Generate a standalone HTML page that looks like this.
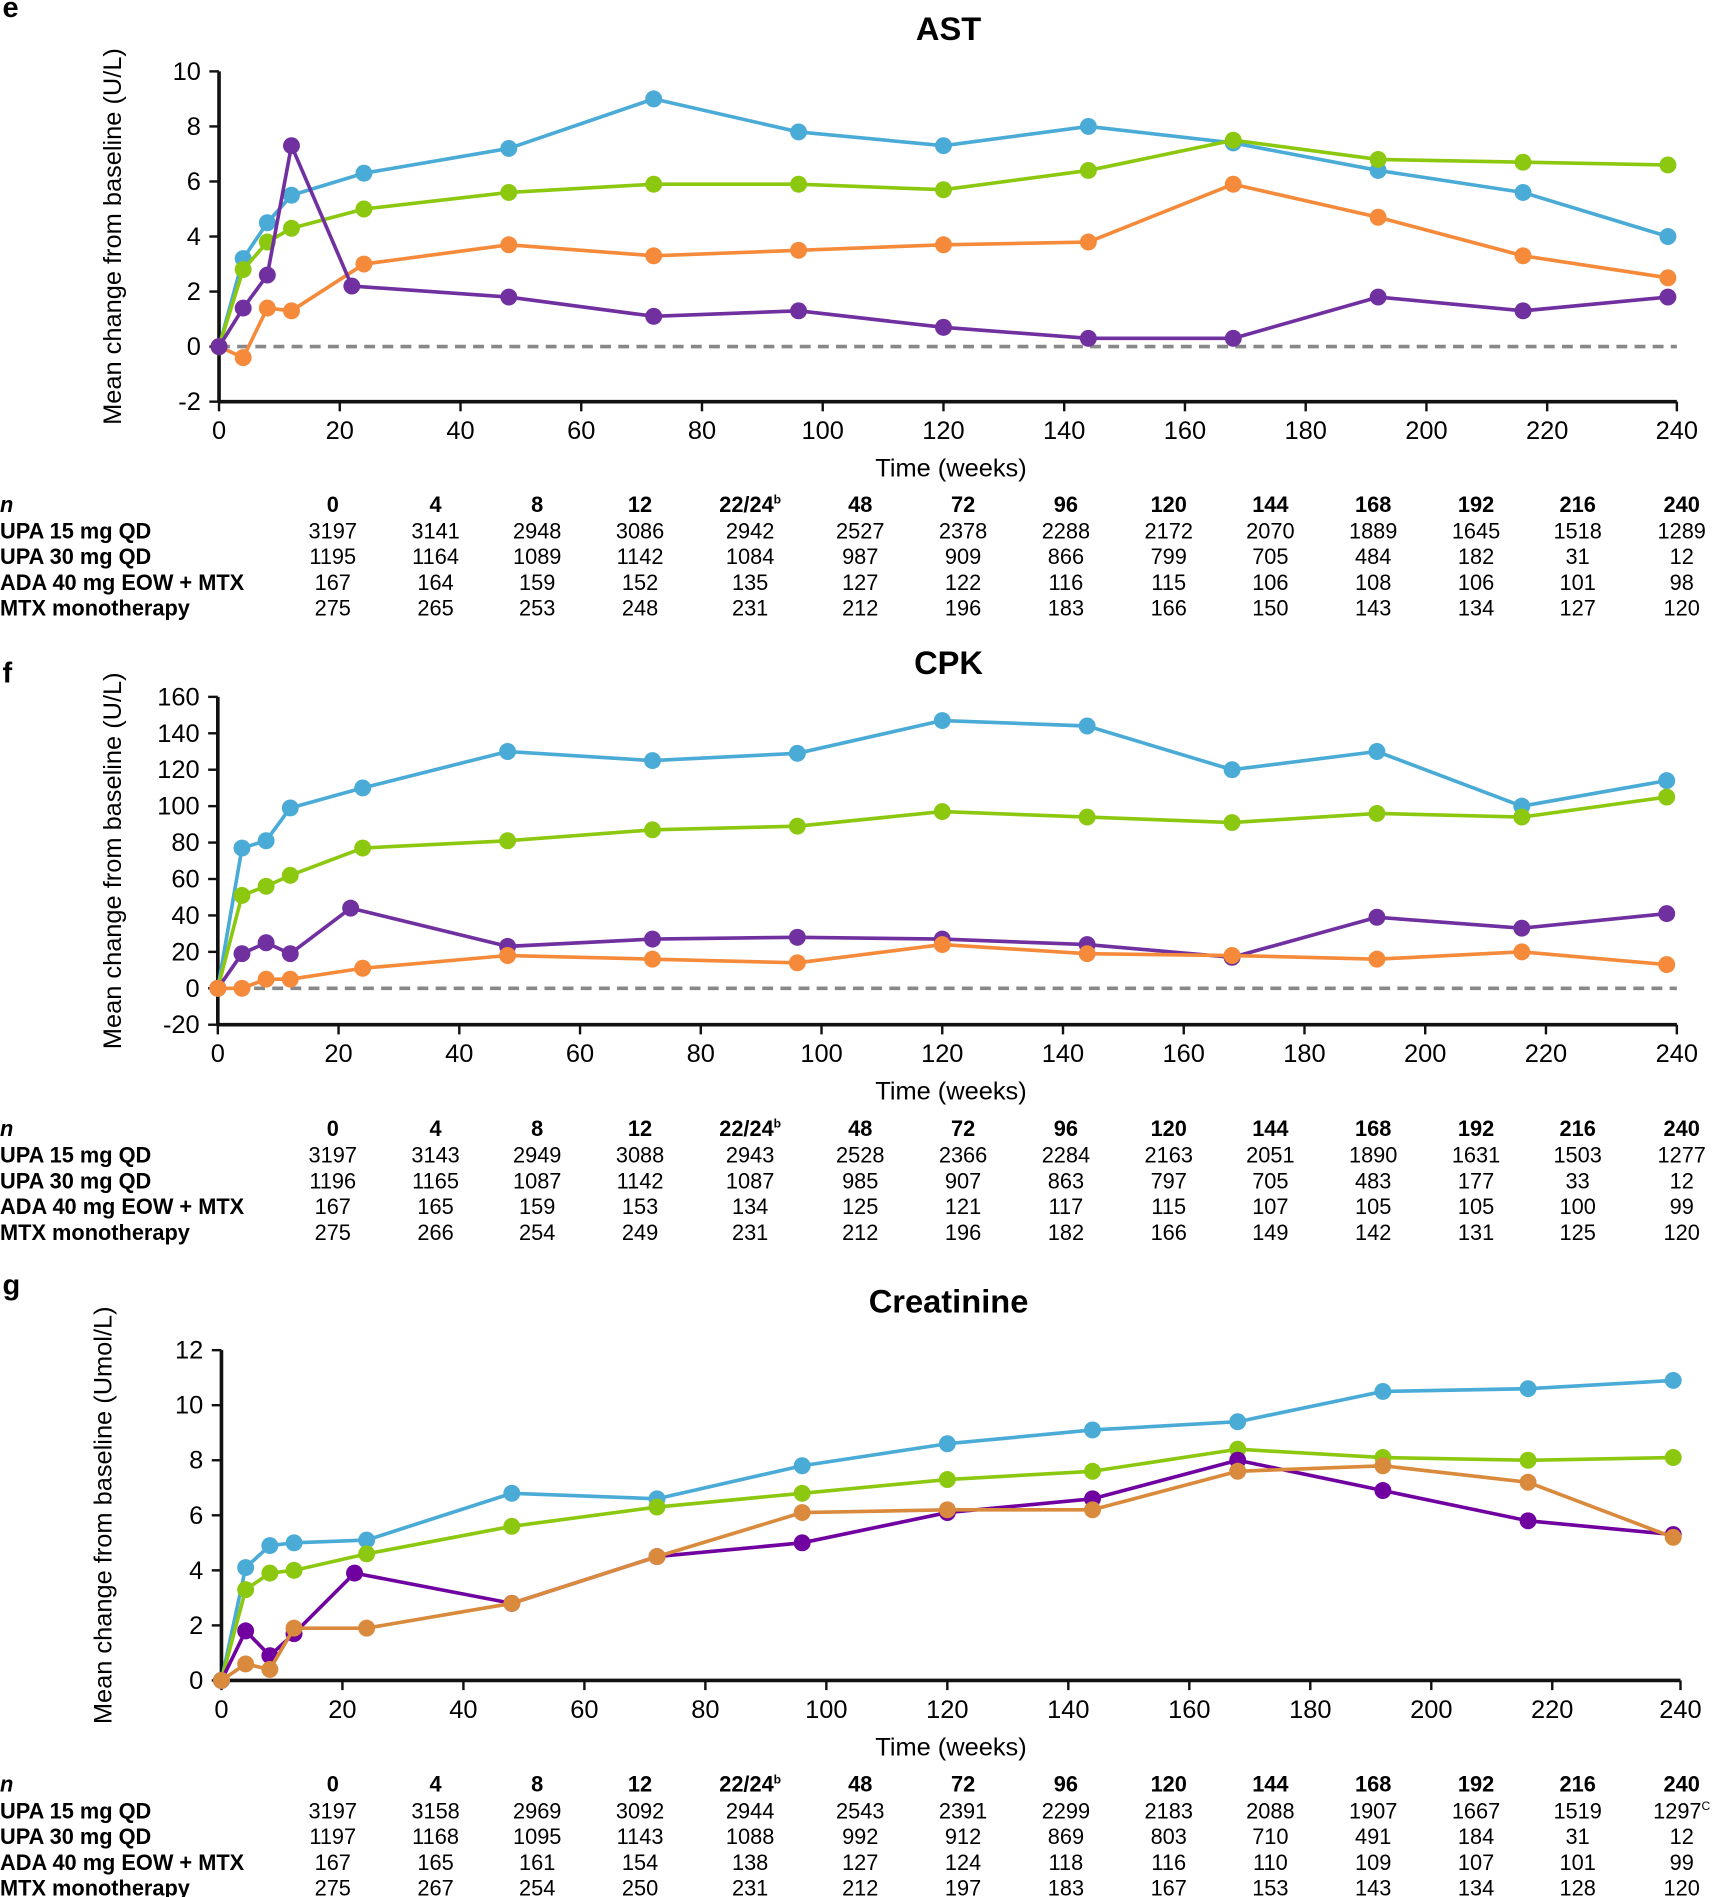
<!DOCTYPE html>
<html><head><meta charset="utf-8">
<style>
html,body{margin:0;padding:0;background:#fff;}
svg{display:block;font-family:"Liberation Sans",Arial,sans-serif;}
</style></head>
<body>
<svg id="fig" width="1712" height="1897" viewBox="0 0 1415 1568" xmlns="http://www.w3.org/2000/svg"></svg>
<script>
const weeks = [0,4,8,12,24,48,72,96,120,144,168,192,216,240];
const weeksPurple = [0,4,8,12,22,48,72,96,120,144,168,192,216,240];
const colHeaders = ["0","4","8","12","22/24","48","72","96","120","144","168","192","216","240"];
const rowLabels = ["UPA 15 mg QD","UPA 30 mg QD","ADA 40 mg EOW + MTX","MTX monotherapy"];

const astBlue   = [0,3.2,4.5,5.5,6.3,7.2,9.0,7.8,7.3,8.0,7.4,6.4,5.6,4.0];
const astGreen  = [0,2.8,3.8,4.3,5.0,5.6,5.9,5.9,5.7,6.4,7.5,6.8,6.7,6.6];
const astOrange = [0,-0.4,1.4,1.3,3.0,3.7,3.3,3.5,3.7,3.8,5.9,4.7,3.3,2.5];
const astPurple = [0,1.4,2.6,7.3,2.2,1.8,1.1,1.3,0.7,0.3,0.3,1.8,1.3,1.8];
const astTicks  = [-2,0,2,4,6,8,10];
const astN = [
 ["3197","3141","2948","3086","2942","2527","2378","2288","2172","2070","1889","1645","1518","1289"],
 ["1195","1164","1089","1142","1084","987","909","866","799","705","484","182","31","12"],
 ["167","164","159","152","135","127","122","116","115","106","108","106","101","98"],
 ["275","265","253","248","231","212","196","183","166","150","143","134","127","120"]];

const cpkBlue   = [0,77,81,99,110,130,125,129,147,144,120,130,100,114];
const cpkGreen  = [0,51,56,62,77,81,87,89,97,94,91,96,94,105];
const cpkPurple = [0,19,25,19,44,23,27,28,27,24,17,39,33,41];
const cpkOrange = [0,0,5,5,11,18,16,14,24,19,18,16,20,13];
const cpkTicks  = [-20,0,20,40,60,80,100,120,140,160];
const cpkN = [
 ["3197","3143","2949","3088","2943","2528","2366","2284","2163","2051","1890","1631","1503","1277"],
 ["1196","1165","1087","1142","1087","985","907","863","797","705","483","177","33","12"],
 ["167","165","159","153","134","125","121","117","115","107","105","105","100","99"],
 ["275","266","254","249","231","212","196","182","166","149","142","131","125","120"]];

const crBlue   = [0,4.1,4.9,5.0,5.1,6.8,6.6,7.8,8.6,9.1,9.4,10.5,10.6,10.9];
const crGreen  = [0,3.3,3.9,4.0,4.6,5.6,6.3,6.8,7.3,7.6,8.4,8.1,8.0,8.1];
const crPurple = [0,1.8,0.9,1.7,3.9,2.8,4.5,5.0,6.1,6.6,8.0,6.9,5.8,5.3];
const crOrange = [0,0.6,0.4,1.9,1.9,2.8,4.5,6.1,6.2,6.2,7.6,7.8,7.2,5.2];
const crTicks  = [0,2,4,6,8,10,12];
const crN = [
 ["3197","3158","2969","3092","2944","2543","2391","2299","2183","2088","1907","1667","1519","1297"],
 ["1197","1168","1095","1143","1088","992","912","869","803","710","491","184","31","12"],
 ["167","165","161","154","138","127","124","118","116","110","109","107","101","99"],
 ["275","267","254","250","231","212","197","183","167","153","143","134","128","120"]];

const xTicks = [0,20,40,60,80,100,120,140,160,180,200,220,240];

const NS="http://www.w3.org/2000/svg";
const svg=document.getElementById('fig');
function mk(tag,attrs,parent,text){const e=document.createElementNS(NS,tag);for(const k in attrs)e.setAttribute(k,attrs[k]);if(text!==undefined)e.textContent=text;(parent||svg).appendChild(e);return e;}

const colX=[275,360,444,529,620,711,796,881,966,1050,1135,1220,1304,1390];

function chart(o){
  const g=mk('g',{});
  
  
  const xs=w=>o.x0+w*o.xk;
  const ys=v=>o.yBot-(v-o.yMin)/(o.yMax-o.yMin)*(o.yBot-o.yTop);
  const pl=mk('text',{x:2,y:o.letterY,'font-size':24,'font-weight':'bold'},g,o.letter);
  
  
  const t=mk('text',{x:784,y:o.titleY,'font-size':27,'font-weight':'bold','text-anchor':'middle'},g,o.title);
  
  
  const yl=mk('text',{transform:`translate(${o.ylX},${(o.yTop+o.yBot)/2}) rotate(-90)`,'font-size':21,'text-anchor':'middle'},g,o.ylabel);
  
  
  const ya=mk('line',{x1:o.x0,y1:o.yTop,x2:o.x0,y2:o.yBot,stroke:'#111','stroke-width':3},g);
  
  
  const xa=mk('line',{x1:o.x0,y1:o.yBot,x2:o.xEnd,y2:o.yBot,stroke:'#111','stroke-width':3},g);
  
  
  o.yTicks.forEach(v=>{
    mk('line',{x1:o.x0-8,y1:ys(v),x2:o.x0,y2:ys(v),stroke:'#111','stroke-width':2},g);
    const tl=mk('text',{x:o.x0-15,y:ys(v)+7,'font-size':21,'text-anchor':'end'},g,String(v));
    
    
  });
  xTicks.forEach(w=>{
    const xx=(w===240)?o.xEnd:xs(w);
    mk('line',{x1:xx,y1:o.yBot,x2:xx,y2:o.yBot+8,stroke:'#111','stroke-width':2},g);
    const tl=mk('text',{x:xx,y:o.yBot+31,'font-size':21,'text-anchor':'middle'},g,String(w));
    
    
  });
  const xt=mk('text',{x:786,y:o.yBot+62,'font-size':21,'text-anchor':'middle'},g,'Time (weeks)');
  
  
  if(o.dashed){
    const d=mk('line',{x1:o.x0,y1:ys(0),x2:o.xEnd,y2:ys(0),stroke:'#888','stroke-width':3,'stroke-dasharray':'9,6'},g);
    
    
  }
  o.series.forEach(s=>{
    const pts=s.vals.map((v,i)=>[xs(s.w[i]),ys(v)]);
    const l=mk('polyline',{points:pts.map(p=>p.join(',')).join(' '),fill:'none',stroke:s.c,'stroke-width':3,'stroke-linejoin':'round'},g);
    
    
    pts.forEach(p=>{
      const c=mk('circle',{cx:p[0],cy:p[1],r:7,fill:s.c},g);
      
      
    });
  });
  const tb=mk('g',{'font-size':18},g);
  
  
  const y0=o.tblY;
  mk('text',{x:0,y:y0,'font-weight':'bold','font-style':'italic'},tb,'n');
  colHeaders.forEach((h,i)=>{
    const ht=mk('text',{x:colX[i],y:y0,'font-weight':'bold','text-anchor':'middle'},tb,h);
    if(h==='22/24'){mk('tspan',{'font-size':10,dy:-7},ht,'b');}
  });
  rowLabels.forEach((r,j)=>{
    const yy=y0+22+j*21.3;
    mk('text',{x:0,y:yy,'font-weight':'bold'},tb,r);
    o.n[j].forEach((v,i)=>{
      const nt=mk('text',{x:colX[i],y:yy,'text-anchor':'middle'},tb,v);
      if(o.sup && j===0 && i===13){mk('tspan',{'font-size':10,dy:-7},nt,'C');}
    });
  });
}

chart({name:'ast',letter:'e',letterY:14,title:'AST',titleY:33,ylabel:'Mean change from baseline (U/L)',ylX:100,
  x0:181,xk:4.99,xEnd:1386,yTop:59,yBot:332,yMin:-2,yMax:10,yTicks:astTicks,dashed:true,tblY:423,n:astN,
  series:[{n:'upa30',c:'#4aabd6',vals:astBlue,w:weeks},{n:'upa15',c:'#8cc810',vals:astGreen,w:weeks},
          {n:'mtx',c:'#f58a3a',vals:astOrange,w:weeks},{n:'ada',c:'#7030a0',vals:astPurple,w:weeksPurple}]});
chart({name:'cpk',letter:'f',letterY:564,title:'CPK',titleY:557,ylabel:'Mean change from baseline (U/L)',ylX:100,
  x0:180,xk:4.99,xEnd:1386,yTop:576,yBot:847,yMin:-20,yMax:160,yTicks:cpkTicks,dashed:true,tblY:939,n:cpkN,
  series:[{n:'upa30',c:'#4aabd6',vals:cpkBlue,w:weeks},{n:'upa15',c:'#8cc810',vals:cpkGreen,w:weeks},
          {n:'ada',c:'#7030a0',vals:cpkPurple,w:weeksPurple},{n:'mtx',c:'#f58a3a',vals:cpkOrange,w:weeks}]});
chart({name:'creatinine',letter:'g',letterY:1070,title:'Creatinine',titleY:1085,ylabel:'Mean change from baseline (Umol/L)',ylX:92,
  x0:183,xk:5.0,xEnd:1389,yTop:1116,yBot:1389,yMin:0,yMax:12,yTicks:crTicks,dashed:false,tblY:1481,n:crN,sup:true,
  series:[{n:'upa30',c:'#4aabd6',vals:crBlue,w:weeks},{n:'upa15',c:'#8cc810',vals:crGreen,w:weeks},
          {n:'ada',c:'#7000a0',vals:crPurple,w:weeksPurple},{n:'mtx',c:'#d98a3c',vals:crOrange,w:weeks}]});
</script>
</body></html>
